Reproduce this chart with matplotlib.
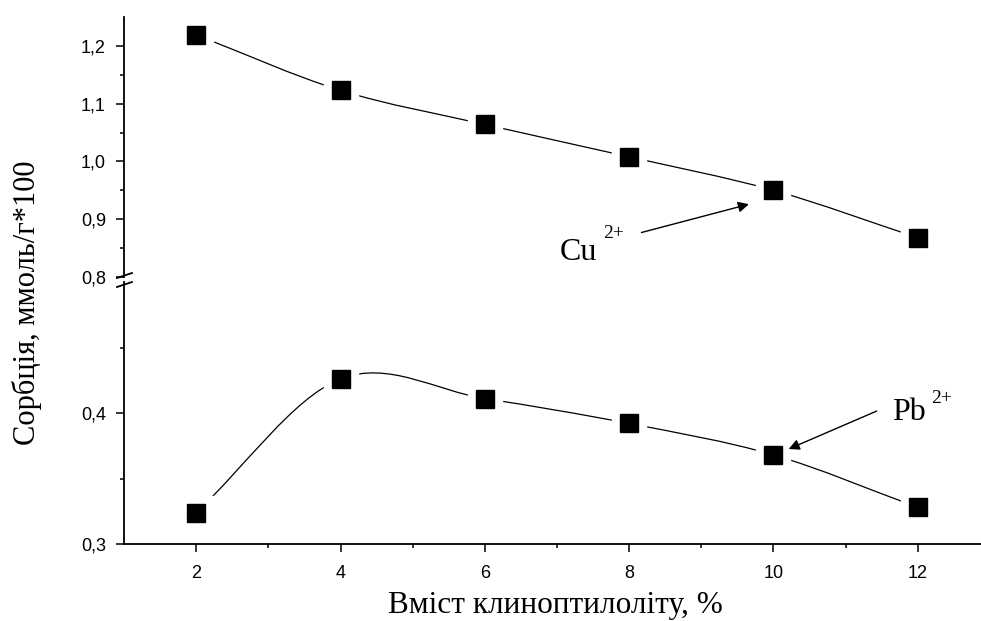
import matplotlib
matplotlib.use("Agg")
import matplotlib.pyplot as plt
from matplotlib.path import Path
from matplotlib.patches import PathPatch
from matplotlib.lines import Line2D
from matplotlib.ticker import FixedLocator, FuncFormatter

# data
clino = [2, 4, 6, 8, 10, 12]
cu_sorb = [1.219, 1.123, 1.064, 1.008, 0.950, 0.868]
pb_sorb = [0.324, 0.426, 0.411, 0.392, 0.368, 0.328]

x_major = [2, 4, 6, 8, 10, 12]
x_minor = [3, 5, 7, 9, 11]
top_major = [0.8, 0.9, 1.0, 1.1, 1.2]
top_minor = [0.85, 0.95, 1.05, 1.15]
bot_major = [0.3, 0.4]
bot_minor = [0.35, 0.45]

xlabel = "Вміст клиноптилоліту, %"
ylabel = "Сорбція, ммоль/г*100"

W, H = 981, 621
fig = plt.figure(figsize=(W / 100, H / 100), dpi=100)


def px_box(left, top, right, bottom):
    return [left / W, 1 - bottom / H, (right - left) / W, (bottom - top) / H]


ax_top = fig.add_axes(px_box(124, 17, 990, 277))
ax_bot = fig.add_axes(px_box(124, 282, 990, 544))

comma = FuncFormatter(lambda v, pos: f"{v:.1f}".replace(".", ","))

for ax in (ax_top, ax_bot):
    ax.set_xlim(1, 13)
    for s in ("top", "right"):
        ax.spines[s].set_visible(False)
    ax.spines["left"].set_linewidth(1.3)
    ax.spines["bottom"].set_linewidth(1.3)
    ax.tick_params(which="major", direction="out", length=6, width=1.1, pad=7)
    ax.tick_params(which="minor", direction="out", length=3, width=1.1)
    ax.yaxis.set_major_formatter(comma)

ax_top.set_ylim(0.8, 1.25)
ax_top.spines["bottom"].set_visible(False)
ax_top.tick_params(axis="x", which="both", bottom=False, labelbottom=False)
ax_top.yaxis.set_major_locator(FixedLocator(top_major))
ax_top.yaxis.set_minor_locator(FixedLocator(top_minor))

ax_bot.set_ylim(0.3, 0.5)
ax_bot.yaxis.set_major_locator(FixedLocator(bot_major))
ax_bot.yaxis.set_minor_locator(FixedLocator(bot_minor))
ax_bot.xaxis.set_major_locator(FixedLocator(x_major))
ax_bot.xaxis.set_minor_locator(FixedLocator(x_minor))
ax_bot.tick_params(axis="x", which="major", pad=9)

for ax in (ax_top, ax_bot):
    for lab in ax.get_yticklabels() + ax.get_xticklabels():
        lab.set_family(["Liberation Sans", "DejaVu Sans"])
        lab.set_size(13)


def smooth_path(xs, ys):
    # Catmull-Rom style bezier through the measured points
    n = len(xs)
    tang = []
    for i in range(n):
        a = max(i - 1, 0)
        b = min(i + 1, n - 1)
        k = 0.5 if 0 < i < n - 1 else 1.0
        tang.append(((xs[b] - xs[a]) * k, (ys[b] - ys[a]) * k))
    verts = [(xs[0], ys[0])]
    codes = [Path.MOVETO]
    for i in range(n - 1):
        verts += [(xs[i] + tang[i][0] / 3, ys[i] + tang[i][1] / 3),
                  (xs[i + 1] - tang[i + 1][0] / 3, ys[i + 1] - tang[i + 1][1] / 3),
                  (xs[i + 1], ys[i + 1])]
        codes += [Path.CURVE4] * 3
    return Path(verts, codes)


for ax, ys in ((ax_top, cu_sorb), (ax_bot, pb_sorb)):
    ax.add_patch(PathPatch(smooth_path(clino, ys), fill=False, lw=0.9,
                           edgecolor="black", zorder=2))
    ax.plot(clino, ys, ls="none", marker="s", ms=25, mfc="white",
            mec="white", zorder=3)
    ax.plot(clino, ys, ls="none", marker="s", ms=12.5, mfc="black",
            mec="black", zorder=4)

arrow = dict(arrowstyle="-|>", lw=1.0, color="black", mutation_scale=16,
             shrinkA=0, shrinkB=0)
serif = ["Liberation Serif", "DejaVu Serif"]

ax_top.annotate("", xy=(9.66, 0.926), xytext=(8.17, 0.877),
                arrowprops=arrow, zorder=5)
ax_top.text(7.04, 0.830, "Cu", family=serif, fontsize=23, va="baseline")
ax_top.text(7.64, 0.868, "2+", family=serif, fontsize=14, va="baseline")

ax_bot.annotate("", xy=(10.21, 0.3725), xytext=(11.43, 0.4015),
                arrowprops=arrow, zorder=5)
ax_bot.text(11.65, 0.3947, "Pb", family=serif, fontsize=23, va="baseline")
ax_bot.text(12.19, 0.4076, "2+", family=serif, fontsize=14, va="baseline")

# axis break marks on the left spine
for y0, y1 in ((278, 273), (287, 282)):
    fig.add_artist(Line2D([117 / W, 132 / W], [1 - y0 / H, 1 - y1 / H],
                          color="black", lw=1.3))

fig.text(555 / W, 1 - 605 / H, xlabel, family=serif, fontsize=22.5,
         ha="center", va="center")
fig.text(27 / W, 1 - 303 / H, ylabel, family=serif, fontsize=22,
         rotation=90, ha="center", va="center")

fig.savefig("out.png", dpi=100)
